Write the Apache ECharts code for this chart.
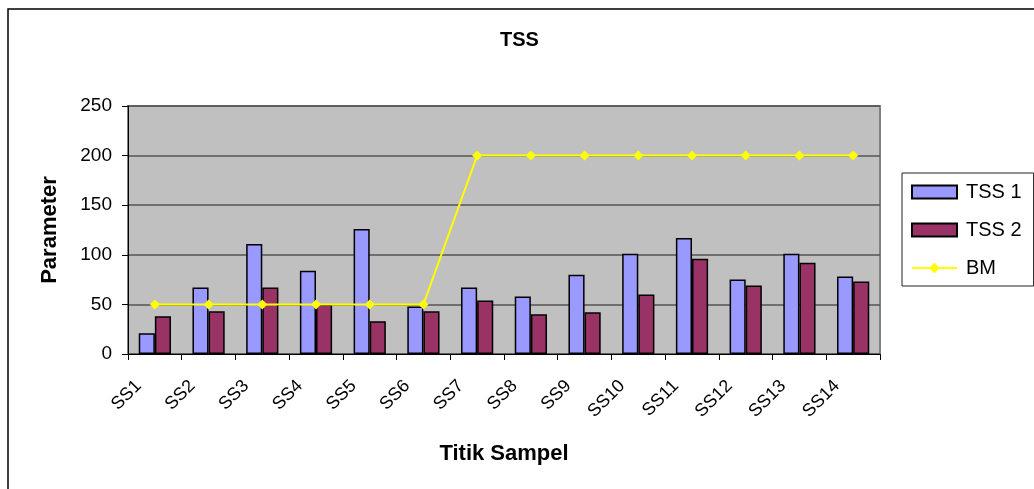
<!DOCTYPE html>
<html><head><meta charset="utf-8">
<script src="https://cdn.jsdelivr.net/npm/echarts@6/dist/echarts.min.js"></script>
<style>html,body{margin:0;padding:0;background:#fff}#c{width:1034px;height:489px}</style>
</head><body><div id="c"></div>
<script>
var categories = ['SS1','SS2','SS3','SS4','SS5','SS6','SS7','SS8','SS9','SS10','SS11','SS12','SS13','SS14'];
var tss1 = [21, 67, 111, 84, 126, 48, 67, 58, 80, 101, 117, 75, 101, 78];
var tss2 = [38, 43, 67, 50, 33, 43, 54, 40, 42, 60, 96, 69, 92, 73];
var bm = [50, 50, 50, 50, 50, 50, 200, 200, 200, 200, 200, 200, 200, 200];
var yTicks = [0, 50, 100, 150, 200, 250];

var font = '"Liberation Sans", Arial, sans-serif';
var chart = echarts.init(document.getElementById('c'));
chart.setOption({
  animation: false,
  textStyle: {fontFamily: font},
  title: {text: 'TSS', left: 495, top: 25,
    textStyle: {fontFamily: font, fontSize: 20, fontWeight: 'bold', color: '#000'}},
  graphic: [{type: 'rect', shape: {x: 8, y: 9, width: 1200, height: 700},
    style: {fill: 'none', stroke: '#000', lineWidth: 1.5}, silent: true}],
  grid: {left: 128, right: 154, top: 106, bottom: 135, show: true,
    backgroundColor: '#c0c0c0', borderColor: '#808080', borderWidth: 2},
  legend: {orient: 'vertical', left: 902, top: 173, padding: [9, 12, 8, 9],
    itemWidth: 45, itemHeight: 13, itemGap: 18,
    borderColor: '#222', borderWidth: 1, backgroundColor: '#fff',
    textStyle: {fontFamily: font, fontSize: 20, color: '#000', padding: [0, 0, 0, 4]},
    data: [{name: 'TSS 1', icon: 'rect'}, {name: 'TSS 2', icon: 'rect'}, {name: 'BM'}]},
  xAxis: {type: 'category', data: categories,
    name: 'Titik Sampel', nameLocation: 'middle', nameGap: 89,
    nameTextStyle: {fontFamily: font, fontSize: 22, fontWeight: 'bold', color: '#000'},
    axisLine: {lineStyle: {color: '#000', width: 1}},
    axisTick: {show: true, length: 6, lineStyle: {color: '#000'}},
    axisLabel: {rotate: 45, margin: 13, padding: [0, 23, 0, 0], fontSize: 18, color: '#000', fontFamily: font, interval: 0}},
  yAxis: {type: 'value', min: 0, max: 250, interval: 50,
    name: 'Parameter', nameLocation: 'middle', nameGap: 67,
    nameTextStyle: {fontFamily: font, fontSize: 22, fontWeight: 'bold', color: '#000'},
    axisLine: {show: true, lineStyle: {color: '#000', width: 1}},
    axisTick: {show: true, length: 6, lineStyle: {color: '#000'}},
    axisLabel: {margin: 16, fontSize: 19, color: '#000', fontFamily: font,
      formatter: function (v) { return yTicks.indexOf(v) >= 0 ? String(v) : ''; }},
    splitLine: {show: true, lineStyle: {color: '#555', width: 1.5}}},
  series: [
    {name: 'TSS 1', type: 'bar', data: tss1, barGap: '0%', barCategoryGap: '40%',
      itemStyle: {color: '#9999ff', borderColor: '#000', borderWidth: 1.5}},
    {name: 'TSS 2', type: 'bar', data: tss2, barGap: '0%', barCategoryGap: '40%',
      itemStyle: {color: '#993366', borderColor: '#000', borderWidth: 1.5}},
    {name: 'BM', type: 'line', data: bm, symbol: 'diamond', symbolSize: 10,
      lineStyle: {color: '#ffff00', width: 2}, itemStyle: {color: '#ffff00'}, z: 5}
  ]
});
</script></body></html>
